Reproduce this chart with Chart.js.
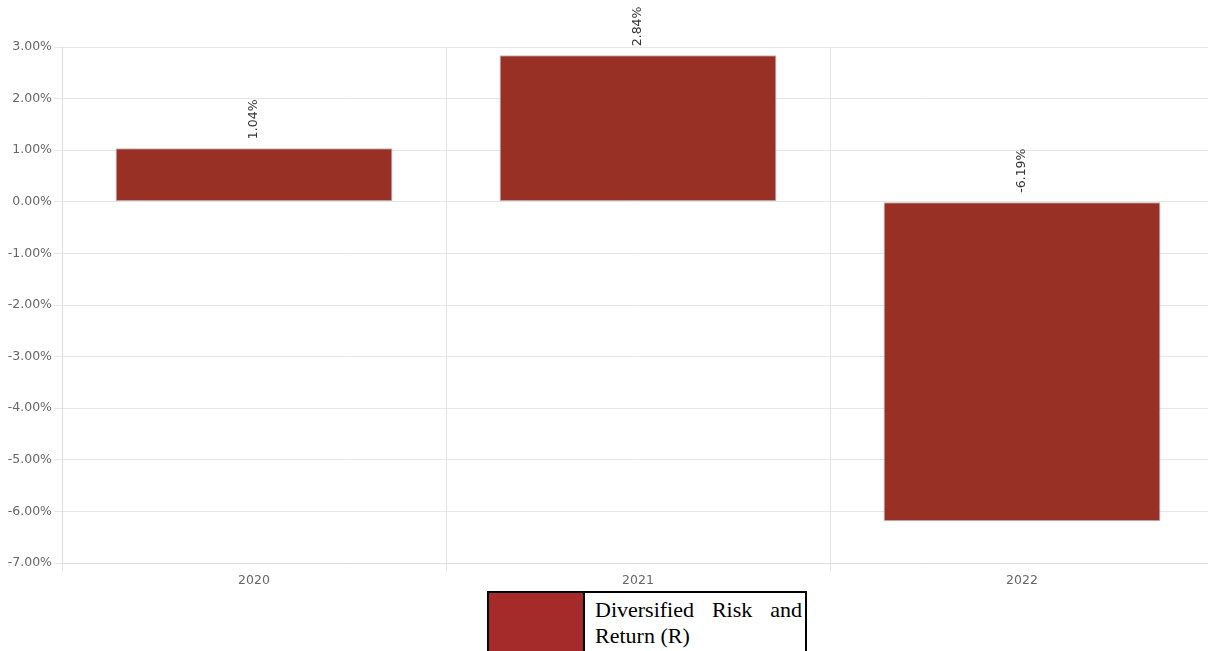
<!DOCTYPE html>
<html><head><meta charset="utf-8">
<script src="https://cdn.jsdelivr.net/npm/chart.js@4/dist/chart.umd.min.js"></script>
<style>
html,body{margin:0;padding:0;background:#fff;width:1208px;height:651px;overflow:hidden;}
#wrap{position:absolute;left:0;top:0;width:1215px;height:591px;}
#legend{position:absolute;left:487px;top:591px;width:316px;height:62px;border:2px solid #000;display:flex;box-sizing:content-box;}
#legend .sw{width:94px;background:#a52a2a;border-right:2px solid #000;}
#legend .tx{flex:1;font-family:"Liberation Serif",serif;font-size:22px;line-height:26px;text-align:justify;padding:4px 3px 0 10px;color:#000;}
</style></head>
<body>
<div id="wrap"><canvas id="c"></canvas></div>
<div id="legend"><div class="sw"></div><div class="tx">Diversified Risk and Return (R)</div></div>
<script>
const categories = ["2020", "2021", "2022"];
const seriesName = "Diversified Risk and Return (R)";
const seriesValues = [1.04, 2.84, -6.19];
const yMin = -7, yMax = 3, yStep = 1;

const labelPlugin = {
  id: 'rotLabels',
  afterDatasetsDraw(chart) {
    const ctx = chart.ctx;
    const meta = chart.getDatasetMeta(0);
    const ys = chart.scales.y;
    ctx.save();
    ctx.font = '12.5px "DejaVu Sans"';
    ctx.fillStyle = '#333';
    ctx.textAlign = 'left';
    ctx.textBaseline = 'middle';
    meta.data.forEach((bar, i) => {
      const v = seriesValues[i];
      const top = ys.getPixelForValue(Math.max(v, 0));
      ctx.save();
      ctx.translate(bar.x, top - 9);
      ctx.rotate(-Math.PI / 2);
      ctx.fillText(v.toFixed(2) + '%', 0, 0);
      ctx.restore();
    });
    ctx.restore();
  }
};

new Chart(document.getElementById('c'), {
  type: 'bar',
  data: {
    labels: categories,
    datasets: [{
      label: seriesName,
      data: seriesValues,
      backgroundColor: '#993026',
      borderColor: '#bbb',
      borderWidth: 1,
      borderSkipped: false,
      categoryPercentage: 0.721,
      barPercentage: 1.0
    }]
  },
  options: {
    responsive: true,
    maintainAspectRatio: false,
    animation: false,
    layout: { padding: { top: 47, right: 1, left: 0, bottom: 0 } },
    plugins: { legend: { display: false }, tooltip: { enabled: false } },
    scales: {
      x: {
        offset: true,
        grid: { offset: true, color: '#e3e3e3', tickLength: 8, drawTicks: true },
        border: { color: '#ddd' },
        ticks: { color: '#666', font: { family: 'DejaVu Sans', size: 12.5 }, padding: 2 },
        afterFit(s) { s.height = 28; }
      },
      y: {
        min: yMin, max: yMax,
        grid: { color: '#e6e6e6', tickLength: 8 },
        border: { color: '#ddd' },
        ticks: {
          stepSize: yStep,
          color: '#666',
          font: { family: 'DejaVu Sans', size: 12.5 },
          padding: 2,
          callback: v => v.toFixed(2) + '%'
        },
        afterFit(s) { s.width = 62; }
      }
    }
  },
  plugins: [labelPlugin]
});
</script>
</body></html>
